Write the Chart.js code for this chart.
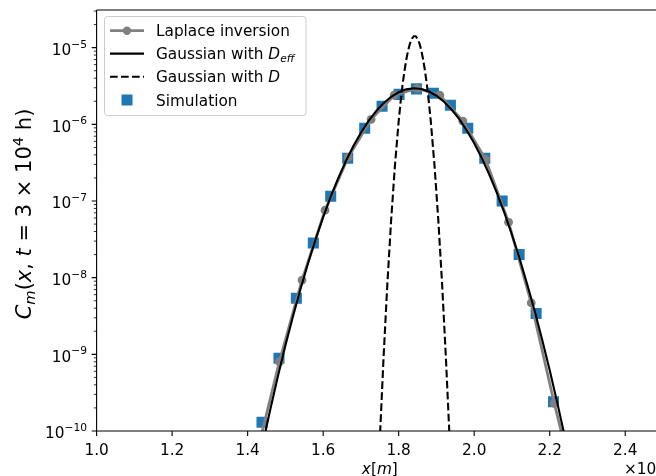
<!DOCTYPE html>
<html>
<head>
<meta charset="utf-8">
<script src="https://cdn.jsdelivr.net/npm/chart.js@4.4.1/dist/chart.umd.min.js"></script>
<style>
  html, body { margin: 0; padding: 0; background: #fff; overflow: hidden; }
</style>
</head>
<body>
<canvas id="grafico" width="680" height="476"></canvas>
<script>
// x in units of 1e6 m, y = C_m(x, t = 3e4 h)
const laplaceX = [1.424, 1.484, 1.544, 1.605, 1.666, 1.727, 1.788, 1.849, 1.909, 1.970, 2.030, 2.091, 2.151, 2.212, 2.272];
const laplaceY = [5e-11, 8e-10, 9.3e-9, 7.6e-8, 3.7e-7, 1.16e-6, 2.4e-6, 2.95e-6, 2.4e-6, 1.1e-6, 3.5e-7, 5.3e-8, 4.7e-9, 2.3e-10, 1.5e-11];

const simX = [1.438, 1.483, 1.529, 1.574, 1.620, 1.665, 1.710, 1.756, 1.801, 1.847, 1.892, 1.937, 1.983, 2.028, 2.074, 2.119, 2.164, 2.210];
const simY = [1.3e-10, 8.9e-10, 5.4e-9, 2.84e-8, 1.15e-7, 3.6e-7, 8.9e-7, 1.72e-6, 2.46e-6, 2.9e-6, 2.55e-6, 1.77e-6, 8.9e-7, 3.6e-7, 1.0e-7, 2.0e-8, 3.4e-9, 2.4e-10];

const deffX = [1.40, 1.42, 1.44, 1.46, 1.48, 1.50, 1.52, 1.54, 1.56, 1.58, 1.60, 1.62, 1.64, 1.66, 1.68, 1.70, 1.72, 1.74, 1.76, 1.78, 1.80, 1.82, 1.84,
               1.86, 1.88, 1.90, 1.92, 1.94, 1.96, 1.98, 2.00, 2.02, 2.04, 2.06, 2.08, 2.10, 2.12, 2.14, 2.16, 2.18, 2.20, 2.22, 2.24, 2.26, 2.28];
const deffY = [7.3e-12, 2.29e-11, 6.79e-11, 1.91e-10, 5.12e-10, 1.30e-9, 3.12e-9, 7.12e-9, 1.54e-8, 3.16e-8, 6.15e-8, 1.14e-7, 1.99e-7, 3.30e-7, 5.21e-7, 7.78e-7, 1.10e-6, 1.48e-6, 1.89e-6, 2.29e-6, 2.62e-6, 2.86e-6, 2.95e-6,
               2.89e-6, 2.68e-6, 2.36e-6, 1.97e-6, 1.56e-6, 1.18e-6, 8.38e-7, 5.67e-7, 3.64e-7, 2.21e-7, 1.28e-7, 6.99e-8, 3.63e-8, 1.79e-8, 8.34e-9, 3.70e-9, 1.55e-9, 6.19e-10, 2.34e-10, 8.39e-11, 2.85e-11, 9.2e-12];

const dX = [1.74, 1.75, 1.76, 1.77, 1.78, 1.79, 1.80, 1.805, 1.81, 1.815, 1.82, 1.825, 1.83, 1.835, 1.84,
            1.845, 1.85, 1.855, 1.86, 1.865, 1.87, 1.875, 1.88, 1.885, 1.895, 1.905, 1.915, 1.925, 1.935, 1.945];
const dY = [4.84e-12, 7.69e-11, 9.18e-10, 8.26e-9, 5.60e-8, 2.85e-7, 1.10e-6, 1.93e-6, 3.18e-6, 4.86e-6, 6.92e-6, 9.19e-6, 1.14e-5, 1.31e-5, 1.41e-5,
            1.41e-5, 1.31e-5, 1.14e-5, 9.19e-6, 6.92e-6, 4.86e-6, 3.18e-6, 1.93e-6, 1.10e-6, 2.85e-7, 5.60e-8, 8.26e-9, 9.18e-10, 7.69e-11, 4.84e-12];

const xTicks = [1.0, 1.2, 1.4, 1.6, 1.8, 2.0, 2.2, 2.4];
const yDecades = [-10, -9, -8, -7, -6, -5];

const FAM = '"DejaVu Sans", sans-serif';

function pts(xs, ys) {
  return xs.map((x, i) => ({x: x, y: ys[i]}));
}

function drawRuns(ctx, runs, x, y, align) {
  let total = 0;
  runs.forEach(r => { ctx.font = r.font; r.w = ctx.measureText(r.t).width; total += r.w; });
  let cx = align === 'center' ? x - total / 2 : (align === 'right' ? x - total : x);
  ctx.textAlign = 'left';
  ctx.textBaseline = 'alphabetic';
  runs.forEach(r => { ctx.font = r.font; ctx.fillText(r.t, cx, y + (r.dy || 0)); cx += r.w; });
}

// spines, tick marks, labels and legend, drawn like matplotlib
const decor = {
  id: 'decor',
  afterDraw(chart) {
    const ctx = chart.ctx;
    const a = chart.chartArea;
    const xs = chart.scales.x, ys = chart.scales.y;
    ctx.save();
    ctx.strokeStyle = '#000';
    ctx.fillStyle = '#000';

    // ticks
    ctx.lineWidth = 1.1;
    ctx.beginPath();
    xTicks.forEach(v => {
      const p = xs.getPixelForValue(v);
      ctx.moveTo(p, a.bottom); ctx.lineTo(p, a.bottom + 4.9);
    });
    yDecades.forEach(e => {
      const p = ys.getPixelForValue(Math.pow(10, e));
      ctx.moveTo(a.left - 4.9, p); ctx.lineTo(a.left, p);
    });
    ctx.stroke();
    ctx.lineWidth = 0.8;
    ctx.beginPath();
    yDecades.forEach(e => {
      for (let k = 2; k <= 9; k++) {
        const v = k * Math.pow(10, e);
        if (v > ys.max) break;
        const p = ys.getPixelForValue(v);
        ctx.moveTo(a.left - 2.8, p); ctx.lineTo(a.left, p);
      }
    });
    ctx.stroke();

    // spines
    ctx.lineWidth = 1.1;
    ctx.beginPath();
    ctx.moveTo(a.left, a.top); ctx.lineTo(a.right + 20, a.top);
    ctx.moveTo(a.left, a.top); ctx.lineTo(a.left, a.bottom);
    ctx.moveTo(a.left, a.bottom); ctx.lineTo(a.right + 20, a.bottom);
    ctx.stroke();

    // tick labels
    const N = '15.3px ' + FAM, S = '10.7px ' + FAM;
    xTicks.forEach(v => {
      drawRuns(ctx, [{t: v.toFixed(1), font: N}], xs.getPixelForValue(v), a.bottom + 24, 'center');
    });
    yDecades.forEach(e => {
      const p = ys.getPixelForValue(Math.pow(10, e));
      drawRuns(ctx, [{t: '10', font: N}, {t: '\u2212' + Math.abs(e), font: S, dy: -7.3}], a.left - 9.6, p + 7.3, 'right');
    });

    // axis labels and offset text
    const LI = 'italic 15.3px ' + FAM;
    drawRuns(ctx, [{t: 'x', font: LI}, {t: '[', font: N}, {t: 'm', font: LI}, {t: ']', font: N}],
             (a.left + a.right) / 2, 473.5, 'center');
    drawRuns(ctx, [{t: '\u00D710', font: N}, {t: '6', font: S, dy: -6.5}], a.right, 474, 'right');

    const YN = '21px ' + FAM, YI = 'italic 21px ' + FAM;
    const YS = '14.7px ' + FAM, YSI = 'italic 14.7px ' + FAM;
    ctx.save();
    ctx.translate(31, 214);
    ctx.rotate(-Math.PI / 2);
    drawRuns(ctx, [
      {t: 'C', font: YI}, {t: 'm', font: YSI, dy: 4},
      {t: '(', font: YN}, {t: 'x', font: YI}, {t: ', ', font: YN}, {t: 't', font: YI},
      {t: ' = 3 \u00D7 10', font: YN}, {t: '4', font: YS, dy: -8.5}, {t: ' h)', font: YN}
    ], 0, 0, 'center');
    ctx.restore();

    // legend
    const F = '15.3px ' + FAM, FI = 'italic 15.3px ' + FAM, FSI = 'italic 10.7px ' + FAM;
    ctx.beginPath();
    ctx.roundRect(104.5, 16.5, 201.5, 99, 3);
    ctx.fillStyle = 'rgba(255,255,255,0.8)';
    ctx.fill();
    ctx.strokeStyle = '#cccccc';
    ctx.lineWidth = 1;
    ctx.stroke();

    const rows = [30.7, 53.6, 76.8, 100];
    const h0 = 110, h1 = 144, hc = 127;
    ctx.strokeStyle = '#808080';
    ctx.lineWidth = 2.8;
    ctx.beginPath(); ctx.moveTo(h0, rows[0]); ctx.lineTo(h1, rows[0]); ctx.stroke();
    ctx.fillStyle = '#808080';
    ctx.beginPath(); ctx.arc(hc, rows[0], 4.2, 0, Math.PI * 2); ctx.fill();
    ctx.strokeStyle = '#000';
    ctx.lineWidth = 2.1;
    ctx.beginPath(); ctx.moveTo(h0, rows[1]); ctx.lineTo(h1, rows[1]); ctx.stroke();
    ctx.setLineDash([7.7, 3.3]);
    ctx.beginPath(); ctx.moveTo(h0, rows[2]); ctx.lineTo(h1, rows[2]); ctx.stroke();
    ctx.setLineDash([]);
    ctx.fillStyle = '#1f77b4';
    ctx.fillRect(hc - 5.5, rows[3] - 5.5, 11, 11);

    ctx.fillStyle = '#000';
    const tx = 156;
    drawRuns(ctx, [{t: 'Laplace inversion', font: F}], tx, rows[0] + 5.5, 'left');
    drawRuns(ctx, [{t: 'Gaussian with ', font: F}, {t: 'D', font: FI}, {t: 'eff', font: FSI, dy: 3}], tx, rows[1] + 5.5, 'left');
    drawRuns(ctx, [{t: 'Gaussian with ', font: F}, {t: 'D', font: FI}], tx, rows[2] + 5.5, 'left');
    drawRuns(ctx, [{t: 'Simulation', font: F}], tx, rows[3] + 5.5, 'left');
    ctx.restore();
  }
};

new Chart(document.getElementById('grafico'), {
  type: 'scatter',
  data: {
    datasets: [
      { label: 'Gaussian with D_eff', data: pts(deffX, deffY), showLine: true, borderColor: '#000', borderWidth: 2.1,
        pointRadius: 0, order: 0 },
      { label: 'Gaussian with D', data: pts(dX, dY), showLine: true, borderColor: '#000', borderWidth: 2.1,
        borderDash: [7.7, 3.3], pointRadius: 0, order: 1 },
      { label: 'Laplace inversion', data: pts(laplaceX, laplaceY), showLine: true, borderColor: '#808080',
        backgroundColor: '#808080', borderWidth: 2.8, pointRadius: 4.4, pointBorderWidth: 0, order: 2 },
      { label: 'Simulation', data: pts(simX, simY), showLine: false, pointStyle: 'rect', pointRadius: 7.8,
        backgroundColor: '#1f77b4', borderColor: '#1f77b4', pointBorderWidth: 0, order: 3 }
    ]
  },
  options: {
    responsive: false,
    animation: false,
    layout: { padding: { left: 0, right: 17, top: 10, bottom: 0 } },
    plugins: { legend: { display: false }, tooltip: { enabled: false } },
    scales: {
      x: {
        type: 'linear', min: 1.0, max: 2.5,
        afterFit: s => { s.height = 45; },
        grid: { display: false, drawTicks: false },
        border: { display: false },
        ticks: { display: false }
      },
      y: {
        type: 'logarithmic', min: 1e-10, max: 3.1e-5,
        afterFit: s => { s.width = 96.6; },
        grid: { display: false, drawTicks: false },
        border: { display: false },
        ticks: { display: false }
      }
    }
  },
  plugins: [decor]
});
</script>
</body>
</html>
